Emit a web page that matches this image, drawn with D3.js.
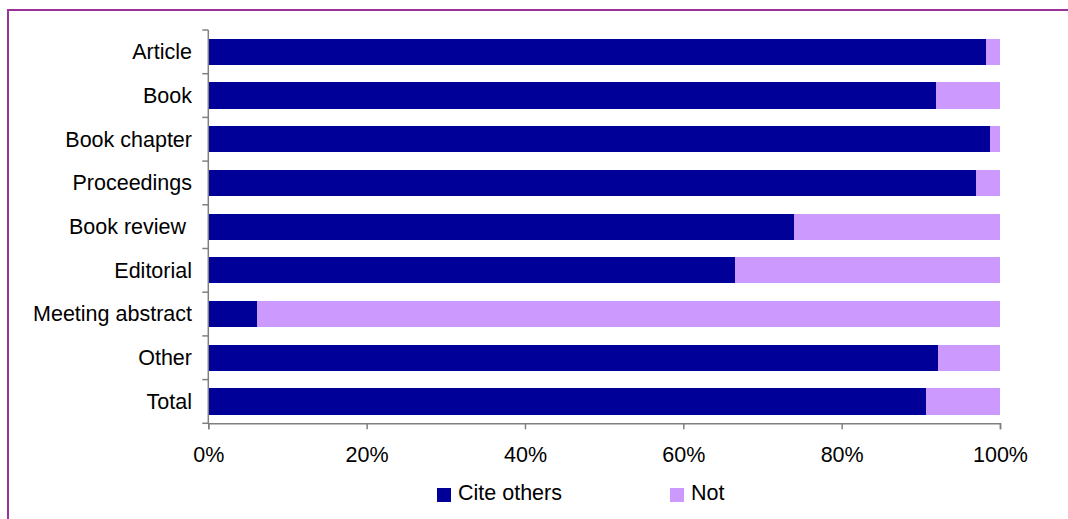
<!DOCTYPE html>
<html>
<head>
<meta charset="utf-8">
<script src="https://cdn.jsdelivr.net/npm/d3@7"></script>
<style>
  html, body { margin: 0; padding: 0; background: #fff; }
  svg { display: block; font-family: Arial, "Liberation Sans", sans-serif; }
</style>
</head>
<body>
<svg id="chart" width="1068" height="519"></svg>
<script>
// Share of documents of each type that cite other works (%)
const categories = ["Article", "Book", "Book chapter", "Proceedings", "Book review ",
                    "Editorial", "Meeting abstract", "Other", "Total"];
const citeOthers = [98.2, 91.9, 98.7, 97.0, 74.0, 66.5, 6.2, 92.2, 90.6];
const notCiting  = [1.8, 8.1, 1.3, 3.0, 26.0, 33.5, 93.8, 7.8, 9.4];
const seriesNames = ["Cite others", "Not"];
const tickValues = [0, 20, 40, 60, 80, 100];

const colors = ["#000099", "#CC99FF"];
const axisColor = "#808080";
const fontSize = 21.5;

const svg = d3.select("#chart");

// outer frame (top and left edges visible)
svg.append("rect")
  .attr("x", 8).attr("y", 10)
  .attr("width", 1200).attr("height", 600)
  .attr("fill", "none")
  .attr("stroke", "#993399")
  .attr("stroke-width", 2);

const plot = { left: 208.3, right: 1000, top: 30, bottom: 423.3 };

const x = d3.scaleLinear().domain([0, 100]).range([plot.left, plot.right]);
const y = d3.scaleBand().domain(categories).range([plot.top, plot.bottom]).padding(0);
const bw = y.bandwidth();

const rows = categories.map((c, i) => ({ cat: c, vals: [citeOthers[i], notCiting[i]] }));

const stackData = rows.map(r => {
  let acc = 0;
  return r.vals.map((v, k) => {
    const seg = { cat: r.cat, k, x0: acc, x1: acc + v };
    acc += v;
    return seg;
  });
}).flat();

svg.append("g").selectAll("rect")
  .data(stackData)
  .join("rect")
  .attr("x", d => x(d.x0))
  .attr("width", d => x(Math.min(d.x1, 100)) - x(d.x0))
  .attr("y", d => y(d.cat) + bw * 0.2)
  .attr("height", bw * 0.6)
  .attr("fill", d => colors[d.k])
  .attr("shape-rendering", "crispEdges");

// category axis: line and tick marks between categories
const yAxisG = svg.append("g");
yAxisG.append("line")
  .attr("x1", plot.left).attr("x2", plot.left)
  .attr("y1", plot.top).attr("y2", plot.bottom)
  .attr("stroke", axisColor).attr("stroke-width", 1.5);
const boundaries = categories.map(c => y(c)).concat([plot.bottom]);
yAxisG.selectAll("line.tick")
  .data(boundaries)
  .join("line")
  .attr("class", "tick")
  .attr("x1", plot.left - 6).attr("x2", plot.left)
  .attr("y1", d => d).attr("y2", d => d)
  .attr("stroke", axisColor).attr("stroke-width", 1.5);
yAxisG.selectAll("text")
  .data(categories)
  .join("text")
  .attr("x", 192)
  .attr("y", d => y(d) + bw / 2)
  .attr("dy", "0.34em")
  .attr("text-anchor", "end")
  .attr("font-size", fontSize)
  .attr("fill", "#000")
  .attr("xml:space", "preserve")
  .style("white-space", "pre")
  .text(d => d);

// value axis
const xAxis = d3.axisBottom(x)
  .tickValues(tickValues)
  .tickSize(6)
  .tickPadding(17)
  .tickFormat(d => d + "%");
const xAxisG = svg.append("g")
  .attr("transform", `translate(0,${plot.bottom})`)
  .call(xAxis);
xAxisG.select(".domain").attr("stroke", axisColor).attr("stroke-width", 1.5);
xAxisG.selectAll(".tick line").attr("stroke", axisColor).attr("stroke-width", 1.5);
xAxisG.selectAll(".tick text")
  .attr("font-size", fontSize)
  .attr("font-family", "Arial, 'Liberation Sans', sans-serif")
  .attr("fill", "#000");

// legend
const legendItems = [
  { name: seriesNames[0], color: colors[0], x: 437 },
  { name: seriesNames[1], color: colors[1], x: 670 }
];
const legend = svg.append("g");
legend.selectAll("rect")
  .data(legendItems)
  .join("rect")
  .attr("x", d => d.x).attr("y", 488)
  .attr("width", 14).attr("height", 14)
  .attr("fill", d => d.color);
legend.selectAll("text")
  .data(legendItems)
  .join("text")
  .attr("x", d => d.x + 21)
  .attr("y", 500)
  .attr("font-size", fontSize)
  .attr("fill", "#000")
  .text(d => d.name);
</script>
</body>
</html>
